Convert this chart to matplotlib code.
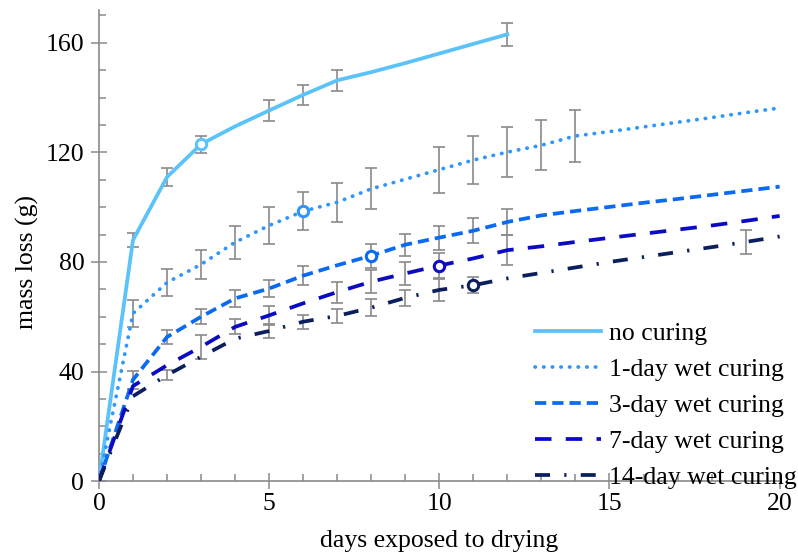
import numpy as np
import matplotlib
matplotlib.use('Agg')
import matplotlib.pyplot as plt
from matplotlib.ticker import MultipleLocator

# values (mass loss in g)
days_nc = list(range(0, 13))
no_curing = [0, 88, 111, 123, 129.5, 135.3, 141, 146.3, 149.3, 152.6, 156.1, 159.6, 163.1]
no_curing_err = [0, 2.5, 3.3, 3.1, 0, 3.8, 3.6, 3.9, 0, 0, 0, 0, 4.2]

days = list(range(0, 21))
wet1 = [0, 61.2, 72.5, 79.1, 87.2, 93.3, 98.5, 101.8, 106.7, 110.2, 113.7, 117.2, 120.1,
        122.6, 126, 127.6, 129.3, 131, 132.7, 134.5, 136.2]
wet1_err = [0, 4.9, 4.9, 5.4, 6, 6.8, 6.9, 7.2, 7.5, 0, 8.4, 8.8, 9.1, 9.2, 9.6,
            0, 0, 0, 0, 0, 0]
wet3 = [0, 37, 52.6, 60, 66.7, 70.3, 75, 78.8, 82.3, 86.3, 88.9, 91.4, 94.6,
        97, 98.6, 100.1, 101.6, 103, 104.5, 106, 107.5]
wet3_err = [0, 3.2, 2.4, 2.7, 3, 3.2, 3.5, 0, 4.4, 4, 4.4, 4.5, 4.9,
            0, 0, 0, 0, 0, 0, 0, 0]
wet7 = [0, 34.7, 42.3, 49, 56.3, 60.5, 64.9, 69, 72.8, 75.8, 78.7, 81.3, 84.3,
        85.7, 87.3, 88.8, 90.3, 91.8, 93.3, 95, 96.8]
wet7_err = [0, 0, 0, 4.5, 2.7, 3.5, 0, 3.8, 4.3, 4.3, 4.6, 0, 5.5,
            0, 0, 0, 0, 0, 0, 0, 0]
wet14 = [0, 31, 38.7, 45.4, 52, 54.8, 58.2, 60.3, 63.3, 66.9, 69.8, 71.5, 74,
         76, 78, 80, 81.8, 83.6, 85.4, 87.3, 89.3]
wet14_err = [0, 0, 1.8, 0, 0, 2.4, 2.5, 2.7, 3, 3, 4, 3, 0,
             0, 0, 0, 0, 0, 0, 4.3, 0]

labels = ['no curing', '1-day wet curing', '3-day wet curing',
          '7-day wet curing', '14-day wet curing']
marker_day = [3, 6, 8, 10, 11]

series = [(days_nc, no_curing, no_curing_err),
          (days, wet1, wet1_err),
          (days, wet3, wet3_err),
          (days, wet7, wet7_err),
          (days, wet14, wet14_err)]

colors = ['#5BC3F9', '#2F97FB', '#0A6AF2', '#0B0BC4', '#0B1F5E']
styles = [dict(linestyle='-'),
          dict(dashes=(0.1, 2.2), dash_capstyle='round'),
          dict(dashes=(3.0, 1.6)),
          dict(dashes=(4.4, 3.8)),
          dict(dashes=(4.0, 3.8, 0.6, 3.8))]

plt.rcParams['font.family'] = ['Liberation Serif', 'DejaVu Serif']
gray = '#8A8A8A'
fs = 18.5

fig = plt.figure(figsize=(7.98, 5.53), dpi=100)
ax = fig.add_axes([0.124, 0.130, 0.853, 0.852])

for (x, y, e), col, st, lab, md in zip(series, colors, styles, labels, marker_day):
    x = np.array(x)
    y = np.array(y)
    e = np.array(e)
    m = e > 0
    # grey error bars sit behind the curves
    ax.errorbar(x[m], y[m], yerr=e[m], fmt='none', ecolor=gray,
                elinewidth=1.2, capsize=4.3, capthick=1.2, zorder=2)
    ax.plot(x, y, color=col, lw=2.7, label=lab, zorder=3, **st)
    i = list(x).index(md)
    ax.plot(x[i], y[i], 'o', ms=7.5, mfc='white', mec=col, mew=2.2, zorder=4)

ax.set_xlim(0, 20)
ax.set_ylim(0, 172)
ax.xaxis.set_major_locator(MultipleLocator(5))
ax.xaxis.set_minor_locator(MultipleLocator(1))
ax.yaxis.set_major_locator(MultipleLocator(40))
ax.yaxis.set_minor_locator(MultipleLocator(10))

for s in ['top', 'right']:
    ax.spines[s].set_visible(False)
for s in ['left', 'bottom']:
    ax.spines[s].set_color(gray)
    ax.spines[s].set_linewidth(1.2)

ax.tick_params(which='major', direction='inout', length=11, width=1.1,
               color=gray, labelsize=fs, labelcolor='black')
ax.tick_params(axis='x', which='major', pad=3)
ax.tick_params(axis='y', which='major', pad=5)
ax.tick_params(which='minor', direction='in', length=5, width=1.1, color=gray)

ax.set_xlabel('days exposed to drying', fontsize=fs, labelpad=11)
ax.set_ylabel('mass loss (g)', fontsize=fs)
ax.yaxis.set_label_coords(-0.088, 0.465)

leg = ax.legend(loc='upper left', bbox_to_anchor=(0.640, 0.337), frameon=False,
                fontsize=fs, handlelength=2.6, handletextpad=0.3,
                labelspacing=0.5, borderpad=0, borderaxespad=0)

fig.savefig('out.png', dpi=100)
